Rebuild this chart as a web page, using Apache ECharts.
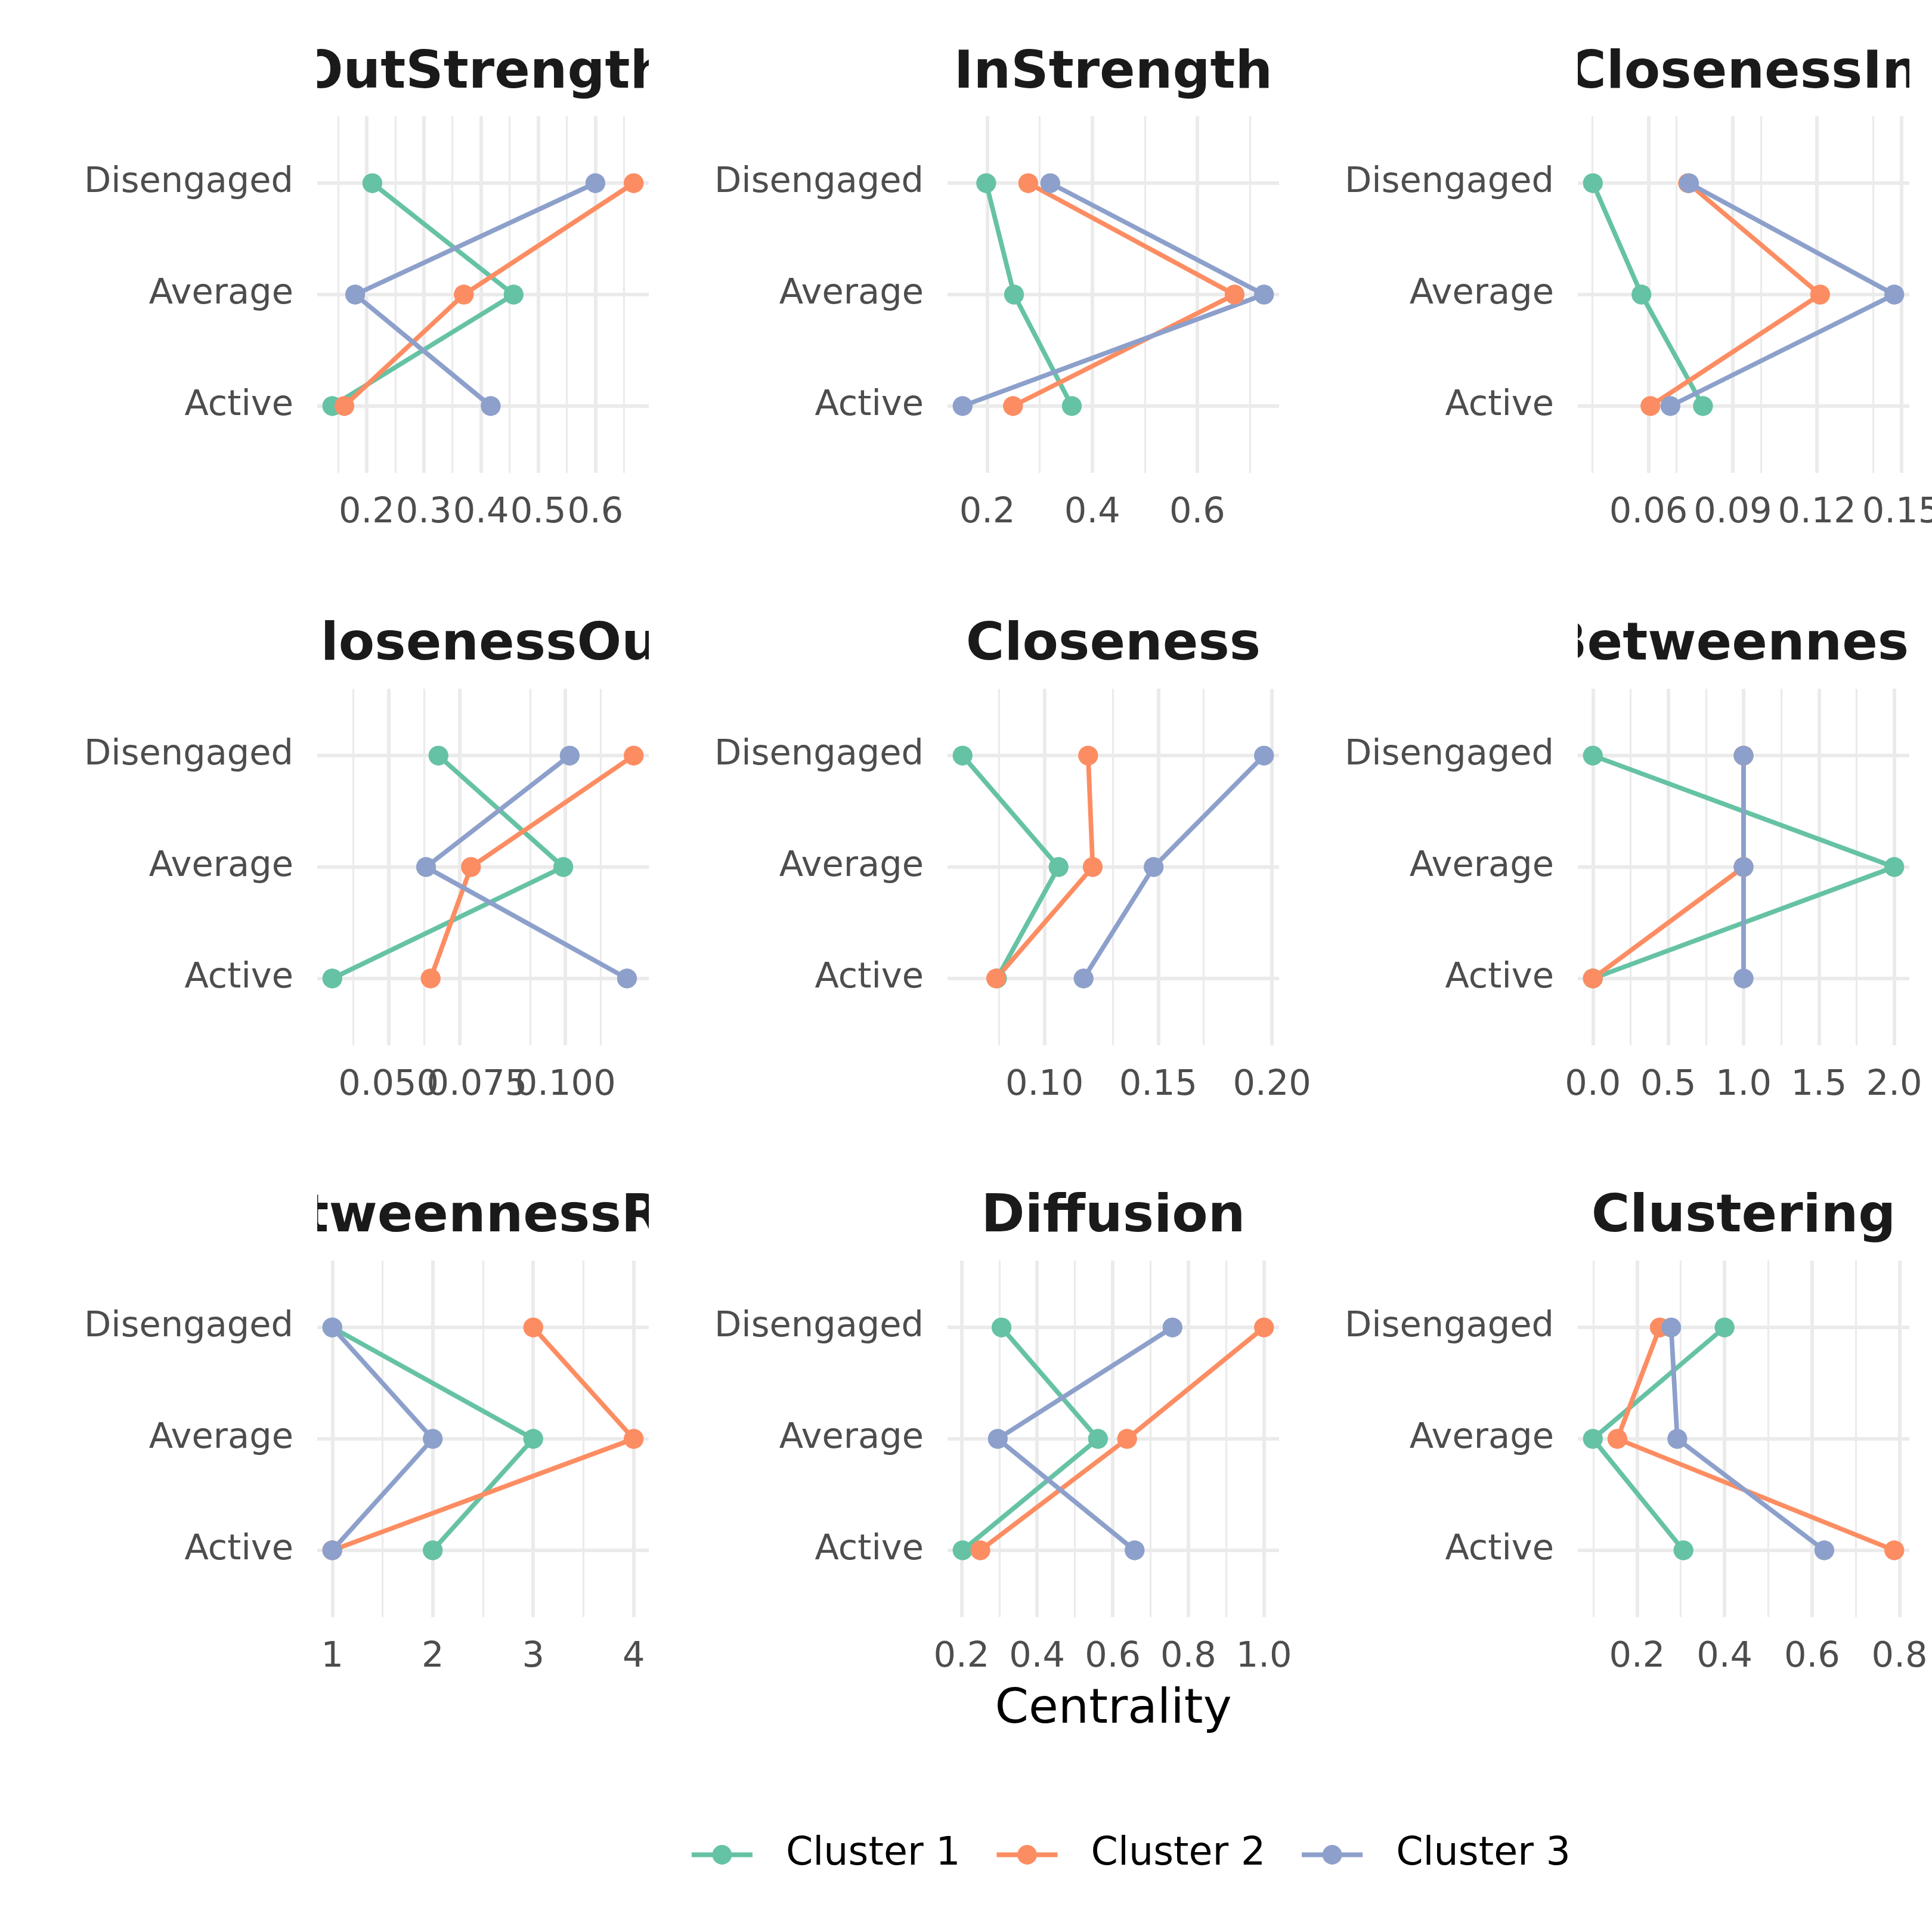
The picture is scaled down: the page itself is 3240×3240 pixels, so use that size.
<!DOCTYPE html>
<html><head><meta charset="utf-8">
<script src="https://cdn.jsdelivr.net/npm/echarts@6/dist/echarts.min.js"></script>
<style>html,body{margin:0;padding:0;background:#fff}#chart{width:3240px;height:3240px}</style>
</head><body><div id="chart"></div>
<script>
// ---- data ----
const panelTitles = ['OutStrength','InStrength','ClosenessIn','ClosenessOut','Closeness','Betweenness','BetweennessRSP','Diffusion','Clustering'];
const categories = ['Disengaged','Average','Active'];
const clusterNames = ['Cluster 1','Cluster 2','Cluster 3'];
const clusterColors = ['#66c2a5','#fc8d62','#8da0cb'];
// each row: one panel, values in category order [Disengaged, Average, Active]
const cluster1Values = [
  [0.210, 0.457, 0.140],
  [0.198, 0.251, 0.361],
  [0.0402, 0.0575, 0.0794],
  [0.0641, 0.0994, 0.0341],
  [0.0640, 0.1062, 0.0791],
  [0, 2, 0],
  [1, 3, 2],
  [0.306, 0.561, 0.203],
  [0.400, 0.099, 0.306]
];
const cluster2Values = [
  [0.667, 0.370, 0.161],
  [0.278, 0.671, 0.249],
  [0.0741, 0.1211, 0.0607],
  [0.1193, 0.0733, 0.0619],
  [0.1192, 0.1212, 0.0788],
  [1, 1, 0],
  [3, 4, 1],
  [1.000, 0.638, 0.250],
  [0.252, 0.155, 0.788]
];
const cluster3Values = [
  [0.600, 0.180, 0.417],
  [0.320, 0.727, 0.153],
  [0.0744, 0.1475, 0.0678],
  [0.1012, 0.0606, 0.1174],
  [0.1965, 0.1480, 0.1172],
  [1, 1, 1],
  [1, 2, 1],
  [0.758, 0.296, 0.658],
  [0.278, 0.292, 0.628]
];
const tickLabels = [
  ['0.2','0.3','0.4','0.5','0.6'],
  ['0.2','0.4','0.6'],
  ['0.06','0.09','0.12','0.15'],
  ['0.050','0.075','0.100'],
  ['0.10','0.15','0.20'],
  ['0.0','0.5','1.0','1.5','2.0'],
  ['1','2','3','4'],
  ['0.2','0.4','0.6','0.8','1.0'],
  ['0.2','0.4','0.6','0.8']
];
const xAxisTitle = 'Centrality';

// ---- layout ----
const gridLefts = [532, 1589, 2646];
const gridTops = [195, 1155, 2114];
const gridW = 556, gridH = 598;
const FONT = 'DejaVu Sans';
const GRID_COLOR = '#ebebeb';
const LINE_W = 7.8;
const POINT = 33;

const allValues = [cluster1Values, cluster2Values, cluster3Values];
const grids = [], xAxes = [], xAxesAlt = [], yAxes = [], series = [], titles = [];
const scatterSeries = [];

function xAxisFor(i, xmin, xmax, majors, labelValues) {
  return {
    type: 'value', gridIndex: i, min: xmin, max: xmax, position: 'bottom', offset: 0,
    axisLine: {show: false}, axisTick: {show: false}, splitLine: {show: false},
    axisLabel: {
      show: labelValues.length > 0,
      customValues: labelValues, showMinLabel: true, showMaxLabel: true, hideOverlap: false,
      fontSize: 59, color: '#4d4d4d', fontFamily: FONT, margin: 38,
      formatter: v => {
        let best = 0;
        majors.forEach((m, k) => { if (Math.abs(m - v) < Math.abs(majors[best] - v)) best = k; });
        return tickLabels[i][best];
      }
    }
  };
}

panelTitles.forEach((title, i) => {
  const col = i % 3, row = Math.floor(i / 3);
  const left = gridLefts[col], top = gridTops[row];
  grids.push({left: left, top: top, width: gridW, height: gridH, containLabel: false, outerBoundsMode: 'none'});
  const vals = allValues.map(a => a[i]);
  const flat = vals.flat();
  const lo = Math.min(...flat), hi = Math.max(...flat);
  const pad = (hi - lo) * 0.05;
  const xmin = lo - pad, xmax = hi + pad;
  const majors = tickLabels[i].map(Number);
  const step = majors[1] - majors[0];
  const minors = [majors[0] - step / 2];
  for (let k = 0; k < majors.length; k++) minors.push(majors[k] + step / 2);
  const minorIn = minors.filter(v => v > xmin && v < xmax);
  const majorIn = majors.filter(v => v >= xmin && v <= xmax);

  // labels split over two coincident axes so that crowded labels all stay visible
  xAxes.push(xAxisFor(i, xmin, xmax, majors, majors.filter((v, k) => k % 2 === 0)));
  xAxesAlt.push(xAxisFor(i, xmin, xmax, majors, majors.filter((v, k) => k % 2 === 1)));

  yAxes.push({
    type: 'value', gridIndex: i, min: 0.4, max: 3.6, inverse: true,
    axisLine: {show: false}, axisTick: {show: false}, splitLine: {show: false},
    axisLabel: {
      customValues: [1, 2, 3], showMinLabel: true, showMaxLabel: true,
      fontSize: 59, color: '#4d4d4d', fontFamily: FONT, margin: 40,
      formatter: v => categories[Math.round(v) - 1]
    }
  });

  const gridLines = [];
  minorIn.forEach(v => gridLines.push({xAxis: v, lineStyle: {color: GRID_COLOR, width: 3.2, type: 'solid'}}));
  majorIn.forEach(v => gridLines.push({xAxis: v, lineStyle: {color: GRID_COLOR, width: 6, type: 'solid'}}));
  categories.forEach((c, k) => gridLines.push({yAxis: k + 1, lineStyle: {color: GRID_COLOR, width: 6, type: 'solid'}}));
  series.push({
    type: 'line', name: 'grid' + i, xAxisIndex: i, yAxisIndex: i, data: [], silent: true, z: 0,
    markLine: {silent: true, z: 0, symbol: ['none', 'none'], label: {show: false},
      emphasis: {disabled: true}, animation: false, data: gridLines}
  });

  vals.forEach((v, c) => {
    const pts = v.map((x, k) => [x, k + 1]);
    series.push({
      type: 'line', name: clusterNames[c], xAxisIndex: i, yAxisIndex: i, data: pts,
      symbol: 'circle', symbolSize: POINT, showSymbol: true, z: 2,
      lineStyle: {width: LINE_W, color: clusterColors[c]}, itemStyle: {color: clusterColors[c]},
      emphasis: {disabled: true}, animation: false
    });
    scatterSeries.push({
      type: 'scatter', name: clusterNames[c], xAxisIndex: i, yAxisIndex: i, data: pts,
      symbol: 'circle', symbolSize: POINT, z: 3,
      itemStyle: {color: clusterColors[c], opacity: 1},
      emphasis: {disabled: true}, animation: false
    });
  });

  titles.push({
    text: title, left: left + gridW / 2, textAlign: 'center', top: 80 + row * 959, padding: 0,
    textStyle: {fontSize: 88, fontWeight: 'bold', color: '#1a1a1a', fontFamily: FONT}
  });
});

titles.push({
  text: xAxisTitle, left: gridLefts[1] + gridW / 2, textAlign: 'center', top: 2827, padding: 0,
  textStyle: {fontSize: 81, fontWeight: 'normal', color: '#000000', fontFamily: FONT}
});

// strip labels are clipped to the panel width, as in the reference
const masks = [];
gridTops.forEach(t => {
  const edges = [0];
  gridLefts.forEach(l => { edges.push(l); edges.push(l + gridW); });
  edges.push(3240);
  for (let k = 0; k < edges.length; k += 2) {
    masks.push({type: 'rect', z: 100, silent: true,
      shape: {x: edges[k], y: t - 160, width: edges[k + 1] - edges[k], height: 155},
      style: {fill: '#ffffff'}});
  }
});

const option = {
  animation: false,
  backgroundColor: '#ffffff',
  textStyle: {fontFamily: FONT},
  title: titles,
  grid: grids,
  xAxis: xAxes.concat(xAxesAlt),
  yAxis: yAxes,
  graphic: {elements: masks},
  legend: {
    data: clusterNames, left: 1156, top: 3078, orient: 'horizontal', padding: 0,
    itemWidth: 102, itemHeight: 41, itemGap: 57,
    lineStyle: {width: LINE_W},
    textStyle: {fontSize: 65, color: '#000000', fontFamily: FONT, padding: [0, 0, 0, 51]}
  },
  series: series.concat(scatterSeries)
};

const chart = echarts.init(document.getElementById('chart'), null, {renderer: 'canvas'});
chart.setOption(option);
</script>
</body></html>
